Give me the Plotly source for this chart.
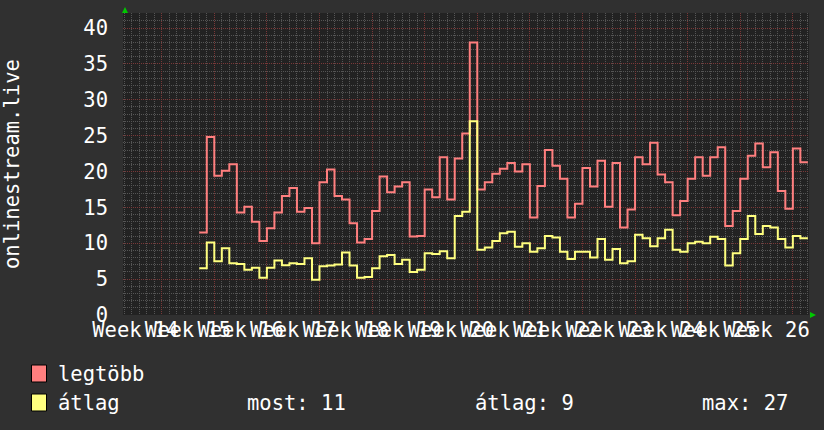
import plotly.graph_objects as go

# ---- data (daily values, day index 0 = Monday of week 15) ----
days = list(range(5, 86))
legtobb = [11.5, 24.8, 19.4, 20.1, 21.0, 14.3, 15.1, 13.0, 10.3, 12.1,
           14.3, 16.6, 17.7, 14.4, 14.9, 10.0, 18.5, 20.3, 16.6, 16.1,
           12.8, 10.1, 10.6, 14.5, 19.3, 17.1, 17.9, 18.5, 10.95, 11.0,
           17.5, 16.4, 22.0, 16.1, 21.8, 25.3, 38.0, 17.5, 18.5, 19.7, 20.4,
           21.2, 20.0, 21.0, 13.6, 18.0, 23.0, 20.8, 19.0, 13.6, 15.5,
           20.5, 17.9, 21.5, 15.1, 21.2, 12.2, 14.7, 22.0, 21.0, 24.0,
           19.6, 18.5, 13.9, 15.9, 19.0, 22.0, 19.4, 22.0, 23.4, 12.4,
           14.5, 19.0, 22.2, 23.9, 20.6, 22.7, 17.3, 14.8, 23.2, 21.3]
atlag = [6.5, 10.1, 7.5, 9.3, 7.2, 7.1, 6.3, 6.6, 5.2, 6.6,
         7.6, 6.95, 7.2, 7.1, 7.9, 4.9, 6.8, 6.9, 7.05, 8.7,
         6.9, 5.2, 5.3, 6.5, 8.2, 8.35, 7.1, 7.7, 6.0, 6.3,
         8.6, 8.5, 8.9, 7.9, 13.8, 14.4, 27.0, 9.1, 9.4, 10.3, 11.4,
         11.6, 9.5, 10.0, 8.8, 9.3, 11.0, 10.8, 8.8, 7.8, 8.8,
         8.8, 8.0, 10.6, 7.7, 9.2, 7.2, 7.5, 11.2, 10.7, 9.6,
         10.7, 11.9, 9.1, 8.8, 10.0, 10.2, 10.0, 10.9, 10.6, 6.9,
         8.6, 10.6, 13.8, 11.3, 12.4, 12.2, 10.6, 9.4, 11.0, 10.7]
week_numbers = list(range(14, 27))
week_labels = ["Week %d" % w for w in week_numbers]
week_centers = [7 * (w - 15) + 3.5 for w in week_numbers]

RED = "#ff7f7f"
YEL = "#ffff7f"
BG = "#303030"
PLOT_BG = "#222222"
MINOR = "#555555"
MAJOR = "#7a3838"
FONT = "DejaVu Sans Mono"
FS = 20.5

W, H = 824, 430
L, R, T, B = 123, 15, 13, 115
PW, PH = W - L - R, H - T - B


def px(x):
    return (x - L) / PW


def py(y):
    return (H - B - y) / PH


XR = [-5.15, 86.15]
YR = [0, 42.1]

end_day = days[-1] + 1
fig = go.Figure()
fig.add_trace(go.Scatter(x=days + [end_day], y=legtobb + [legtobb[-1]], mode="lines",
                         line=dict(shape="hv", color=RED, width=2), hoverinfo="skip"))
fig.add_trace(go.Scatter(x=days + [end_day], y=atlag + [atlag[-1]], mode="lines",
                         line=dict(shape="hv", color=YEL, width=2), hoverinfo="skip"))
fig.add_trace(go.Scatter(x=[week_centers[0]], y=[1], mode="markers", xaxis="x2",
                         marker=dict(opacity=0), hoverinfo="skip"))

grid_dash = "1px,1px"
fig.update_layout(
    width=W, height=H, showlegend=False,
    paper_bgcolor=BG, plot_bgcolor=PLOT_BG,
    margin=dict(l=L, r=R, t=T, b=B, pad=0),
    xaxis=dict(range=XR, tick0=0, dtick=7, showgrid=True, gridcolor=MAJOR,
               griddash=grid_dash, gridwidth=1, showticklabels=False, ticks="",
               zeroline=False, showline=False, fixedrange=True,
               minor=dict(tick0=0, dtick=1, showgrid=True, gridcolor=MINOR,
                          griddash=grid_dash, gridwidth=1)),
    xaxis2=dict(range=XR, overlaying="x", anchor="y", side="bottom",
                tickmode="array", tickvals=week_centers, ticktext=week_labels,
                tickangle=0, showgrid=False, zeroline=False, ticks="",
                tickfont=dict(family=FONT, size=FS, color="white"), fixedrange=True),
    yaxis=dict(range=YR, tick0=0, dtick=5, showgrid=True, gridcolor=MAJOR,
               griddash=grid_dash, gridwidth=1, zeroline=False, ticks="",
               ticklabelstandoff=14,
               tickfont=dict(family=FONT, size=FS, color="white"), fixedrange=True,
               minor=dict(tick0=0, dtick=1, showgrid=True, gridcolor=MINOR,
                          griddash=grid_dash, gridwidth=1)),
)

shapes = []
# arrows
shapes.append(dict(type="path", xref="paper", yref="paper",
                   path="M %f %f L %f %f L %f %f Z" % (px(122), py(13), px(128), py(13), px(125), py(7)),
                   fillcolor="#00c800", line=dict(width=0)))
shapes.append(dict(type="path", xref="paper", yref="paper",
                   path="M %f %f L %f %f L %f %f Z" % (px(810), py(312), px(810), py(318), px(816), py(315)),
                   fillcolor="#00c800", line=dict(width=0)))
# legend swatches
for color, top in [(RED, 365), (YEL, 394)]:
    shapes.append(dict(type="rect", xref="paper", yref="paper",
                       x0=px(31.5), x1=px(46.5), y0=py(top), y1=py(top + 17),
                       fillcolor=color, line=dict(color="black", width=1)))
fig.update_layout(shapes=shapes)

most = atlag[-1]
avg = sum(atlag) / len(atlag)
mx = max(atlag)
ann = []
tf = dict(family=FONT, size=FS, color="white")
for text, x, y in [("legtöbb", 56, 374), ("átlag", 56, 403),
                   ("most: %.0f" % most, 245, 403),
                   ("átlag: %.0f" % avg, 472.5, 403),
                   ("max: %.0f" % mx, 699.5, 403)]:
    ann.append(dict(text=text, x=px(x), y=py(y), xref="paper", yref="paper",
                    xanchor="left", yanchor="middle", showarrow=False, font=tf))
ann.append(dict(text="onlinestream.live", x=px(12), y=py(164), xref="paper", yref="paper",
                xanchor="center", yanchor="middle", textangle=-90, showarrow=False, font=tf))
fig.update_layout(annotations=ann)

fig.write_html("out.html")
